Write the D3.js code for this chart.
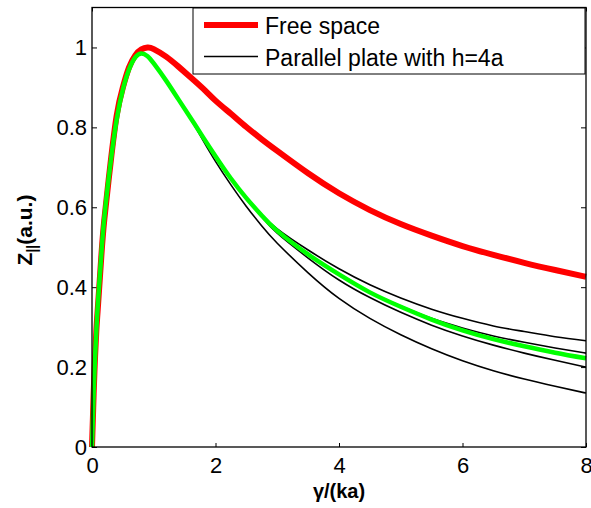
<!DOCTYPE html>
<html>
<head>
<meta charset="utf-8">
<script src="https://cdn.jsdelivr.net/npm/d3@7"></script>
<style>
body { margin:0; background:#fff; }
svg text { font-family:"Liberation Sans", Arial, sans-serif; }
</style>
</head>
<body>
<div id="chart"></div>
<script>
"use strict"

// gamma/(ka) sample points
var xs = [0,0.02,0.04,0.07,0.1,0.15,0.2,0.3,0.4,0.5,0.6,0.7,0.8,0.9,1.0,1.2,1.4,1.6,1.8,2.0,2.25,2.5,2.75,3.0,3.5,4.0,4.5,5.0,5.5,6.0,6.5,7.0,7.5,8.0];

var freeSpace = [0,0.1,0.19,0.29,0.36,0.475,0.57,0.71,0.83,0.9,0.95,0.98,0.995,1.0,0.996,0.977,0.952,0.925,0.897,0.867,0.834,0.801,0.77,0.741,0.685,0.635,0.593,0.558,0.529,0.503,0.481,0.461,0.443,0.426];
var approx = [0,0.1,0.19,0.29,0.37,0.48,0.575,0.71,0.82,0.895,0.945,0.975,0.985,0.978,0.96,0.917,0.87,0.823,0.775,0.728,0.672,0.623,0.579,0.541,0.482,0.432,0.387,0.351,0.319,0.292,0.27,0.252,0.236,0.222];
var plateA = [0,0.1,0.19,0.29,0.37,0.48,0.575,0.71,0.82,0.895,0.945,0.975,0.985,0.978,0.96,0.917,0.87,0.823,0.775,0.728,0.672,0.624,0.582,0.546,0.493,0.446,0.406,0.373,0.345,0.322,0.303,0.289,0.276,0.266];
var plateB = [0,0.1,0.19,0.29,0.37,0.48,0.575,0.71,0.82,0.895,0.945,0.975,0.985,0.978,0.96,0.917,0.87,0.823,0.775,0.728,0.672,0.623,0.579,0.541,0.482,0.432,0.388,0.353,0.322,0.298,0.278,0.262,0.248,0.235];
var plateC = [0,0.1,0.19,0.29,0.37,0.48,0.575,0.71,0.82,0.895,0.945,0.975,0.985,0.978,0.96,0.917,0.87,0.823,0.775,0.728,0.672,0.622,0.576,0.535,0.473,0.418,0.374,0.337,0.305,0.278,0.255,0.235,0.217,0.2];
var plateD = [0,0.1,0.19,0.29,0.37,0.48,0.575,0.71,0.82,0.895,0.945,0.975,0.985,0.978,0.96,0.917,0.87,0.82,0.767,0.715,0.656,0.602,0.553,0.51,0.436,0.372,0.322,0.281,0.246,0.216,0.191,0.17,0.152,0.135];

var xTicks = [0,2,4,6,8];
var yTicks = [0,0.2,0.4,0.6,0.8,1];
var legendLabels = ["Free space","Parallel plate with h=4a"];

var width = 591,
	height = 508;
var mLeft = 92, mRight = 586, mTop = 7.5, mBottom = 447;

var svg = d3.select("#chart").append("svg")
	.attr("width",width)
	.attr("height",height);

var xscale = d3.scaleLinear().domain([0,8]).range([mLeft,mRight]);
var yscale = d3.scaleLinear().domain([0,1.1]).range([mBottom,mTop]);

function fmt(d) { return d3.format("~g")(d); }

// axes, MATLAB style with inward ticks
var gx = svg.append("g").attr("transform","translate(0,"+mBottom+")")
	.call(d3.axisBottom(xscale).tickValues(xTicks).tickFormat(fmt).tickSizeInner(-4).tickSizeOuter(0).tickPadding(10));
var gy = svg.append("g").attr("transform","translate("+mLeft+",0)")
	.call(d3.axisLeft(yscale).tickValues(yTicks).tickFormat(fmt).tickSizeInner(-5).tickSizeOuter(0).tickPadding(5));
var gt = svg.append("g").attr("transform","translate(0,"+mTop+")")
	.call(d3.axisTop(xscale).tickValues(xTicks).tickFormat("").tickSizeInner(-4).tickSizeOuter(0));
var gr = svg.append("g").attr("transform","translate("+mRight+",0)")
	.call(d3.axisRight(yscale).tickValues(yTicks).tickFormat("").tickSizeInner(-5).tickSizeOuter(0));
[gx,gy,gt,gr].forEach(function(g){
	g.select(".domain").remove();
	g.selectAll("line").attr("stroke","#000");
	g.selectAll("text").attr("fill","#000").style("font-size","22px").style("font-family",'"Liberation Sans", Arial, sans-serif');
});

var line = d3.line()
	.x(function(d,i){ return xscale(xs[i]); })
	.y(function(d){ return yscale(d); })
	.curve(d3.curveNatural);

svg.append("path").datum(freeSpace)
	.attr("d",line).attr("fill","none").attr("stroke","#ff0000").attr("stroke-width",6);
[plateA,plateB,plateC,plateD].forEach(function(s){
	svg.append("path").datum(s)
		.attr("d",line).attr("fill","none").attr("stroke","#000").attr("stroke-width",1.6);
});
svg.append("path").datum(approx)
	.attr("d",line).attr("fill","none").attr("stroke","#00ff00").attr("stroke-width",4.5);

// box
svg.append("rect")
	.attr("x",mLeft).attr("y",mTop)
	.attr("width",mRight-mLeft).attr("height",mBottom-mTop)
	.attr("fill","none").attr("stroke","#000").attr("stroke-width",1.3);

// axis labels
svg.append("text")
	.attr("x",(mLeft+mRight)/2).attr("y",498)
	.attr("text-anchor","middle")
	.style("font-size","20px").style("font-weight","bold")
	.text("\u03b3/(ka)");

var ylab = svg.append("text")
	.attr("transform","translate(32,230) rotate(-90)")
	.attr("text-anchor","middle")
	.style("font-size","21px").style("font-weight","bold");
ylab.append("tspan").text("Z");
ylab.append("tspan").attr("dy",5).style("font-size","14px").text("||");
ylab.append("tspan").attr("dy",-5).text("(a.u.)");

// legend
var leg = svg.append("g");
leg.append("rect")
	.attr("x",193).attr("y",8).attr("width",392).attr("height",66)
	.attr("fill","#fff").attr("stroke","#000").attr("stroke-width",1);
var legColors = ["#ff0000","#000"], legWidths = [6,1.6];
legendLabels.forEach(function(t,i){
	var y = 25 + i*31.5;
	leg.append("line").attr("x1",204).attr("x2",258).attr("y1",y).attr("y2",y)
		.attr("stroke",legColors[i]).attr("stroke-width",legWidths[i]);
	leg.append("text").attr("x",265).attr("y",y+9)
		.style("font-size","23px").text(t);
});
</script>
</body>
</html>
